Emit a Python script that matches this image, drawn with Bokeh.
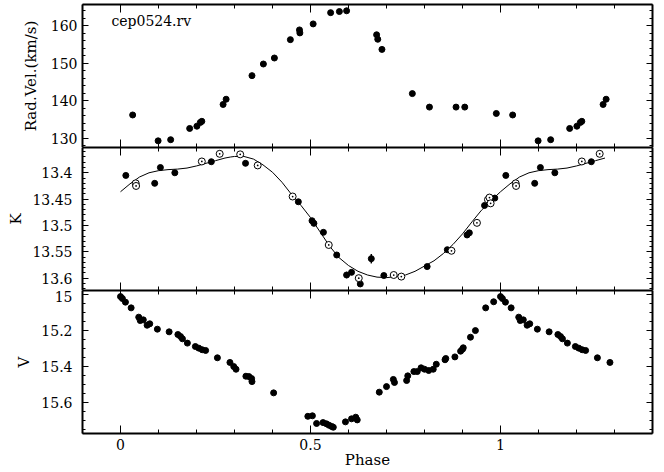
import numpy as np
from bokeh.plotting import figure
from bokeh.layouts import column
from bokeh.models import Range1d, LinearAxis, SingleIntervalTicker, CustomJSTickFormatter, Label
from bokeh.embed import file_html
from bokeh.resources import INLINE

FONT = "DejaVu Serif"

# ---------------- data (phase 0..1) ----------------
rv_phase = [0.032, 0.099, 0.132, 0.182, 0.201, 0.210, 0.214, 0.270, 0.278, 0.346,
            0.376, 0.405, 0.447, 0.471, 0.472, 0.507, 0.553, 0.576, 0.595, 0.674,
            0.677, 0.688, 0.768, 0.813, 0.883, 0.906, 0.989]
rv_vel = [136.2, 129.3, 129.6, 132.6, 133.2, 134.2, 134.5, 139.0, 140.4, 146.7,
          149.8, 151.4, 156.3, 158.9, 158.1, 160.5, 163.5, 163.8, 164.0, 157.6,
          156.4, 153.7, 141.9, 138.3, 138.3, 138.3, 136.6]

k_fill_phase = [0.014, 0.090, 0.105, 0.143, 0.239, 0.329, 0.468, 0.504, 0.509, 0.534,
                0.569, 0.595, 0.608, 0.631, 0.660, 0.693, 0.807, 0.860, 0.912, 0.918,
                0.958, 0.985]
k_fill_mag = [13.405, 13.420, 13.390, 13.400, 13.379, 13.382, 13.455, 13.491, 13.496, 13.513,
              13.556, 13.594, 13.589, 13.611, 13.563, 13.595, 13.578, 13.546, 13.518, 13.514,
              13.462, 13.448]
k_fill_err = [0.0, 0.0, 0.0, 0.0, 0.0, 0.0, 0.0, 0.0, 0.0, 0.0,
              0.0, 0.006, 0.0, 0.0, 0.009, 0.0, 0.0, 0.0, 0.0, 0.0,
              0.0, 0.0]

k_open_phase = [0.040, 0.041, 0.214, 0.261, 0.315, 0.361, 0.453, 0.548, 0.627, 0.719,
                0.739, 0.871, 0.938, 0.967, 0.971, 0.974]
k_open_mag = [13.420, 13.425, 13.3785, 13.364, 13.365, 13.386, 13.445, 13.537, 13.600, 13.594,
              13.597, 13.548, 13.495, 13.451, 13.447, 13.458]

k_curve_phase = [0.000, 0.025, 0.050, 0.075, 0.100, 0.125, 0.150, 0.175, 0.200, 0.225,
                 0.250, 0.275, 0.290, 0.300, 0.325, 0.350, 0.375, 0.400, 0.425, 0.450,
                 0.475, 0.500, 0.525, 0.550, 0.575, 0.600, 0.625, 0.650, 0.675, 0.700,
                 0.725, 0.750, 0.775, 0.800, 0.825, 0.850, 0.875, 0.900, 0.925, 0.950,
                 0.975]
k_curve_mag = [13.436, 13.421, 13.408, 13.400, 13.396, 13.394, 13.393, 13.391, 13.387, 13.382,
               13.377, 13.372, 13.370, 13.369, 13.369, 13.374, 13.385, 13.399, 13.418, 13.441,
               13.462, 13.485, 13.512, 13.539, 13.561, 13.576, 13.587, 13.594, 13.598, 13.599,
               13.597, 13.594, 13.587, 13.577, 13.567, 13.553, 13.536, 13.516, 13.493, 13.471,
               13.453]

v_phase = [0.000, 0.005, 0.013, 0.028, 0.048, 0.052, 0.060, 0.070, 0.077, 0.097,
           0.128, 0.151, 0.158, 0.163, 0.176, 0.197, 0.206, 0.215, 0.224, 0.255,
           0.288, 0.298, 0.304, 0.330, 0.338, 0.345, 0.346, 0.403, 0.493, 0.505,
           0.516, 0.533, 0.542, 0.549, 0.556, 0.560, 0.592, 0.608, 0.619, 0.623,
           0.681, 0.700, 0.718, 0.721, 0.753, 0.756, 0.772, 0.781, 0.791, 0.800,
           0.811, 0.823, 0.831, 0.854, 0.856, 0.880, 0.895, 0.900, 0.902, 0.921,
           0.934, 0.961, 0.982]
v_mag = [15.010, 15.021, 15.041, 15.073, 15.125, 15.144, 15.140, 15.170, 15.162, 15.192,
         15.207, 15.222, 15.233, 15.246, 15.270, 15.289, 15.298, 15.307, 15.311, 15.352,
         15.378, 15.401, 15.416, 15.455, 15.457, 15.468, 15.485, 15.548, 15.679, 15.676,
         15.719, 15.714, 15.721, 15.729, 15.736, 15.740, 15.710, 15.693, 15.684, 15.699,
         15.544, 15.513, 15.473, 15.490, 15.479, 15.453, 15.429, 15.429, 15.408, 15.416,
         15.423, 15.416, 15.388, 15.363, 15.356, 15.347, 15.315, 15.304, 15.296, 15.237,
         15.200, 15.073, 15.039]

star_name = "cep0524.rv"
REPEAT_CUT = 0.29


def wrap(ph, *vals):
    ph = np.asarray(ph, dtype=float)
    m = ph < REPEAT_CUT
    out = [np.concatenate([ph, ph[m] + 1.0])]
    for v in vals:
        v = np.asarray(v, dtype=float)
        out.append(np.concatenate([v, v[m]]))
    return out


xr = Range1d(-0.1, 1.4)
fmt = CustomJSTickFormatter(code="return String(Number(tick.toFixed(4)));")
xt = SingleIntervalTicker(interval=0.5, num_minor_ticks=5)


def make_fig(yr, fh, mt, mb, yint, ynm, ylabel, lstand, astand, show_x):
    p = figure(x_range=xr, y_range=yr, frame_width=570, frame_height=fh,
               min_border_left=82, min_border_right=12, min_border_top=mt,
               min_border_bottom=mb, output_backend="svg", toolbar_location=None)
    p.xgrid.visible = False
    p.ygrid.visible = False
    p.outline_line_color = None
    p.background_fill_color = "white"
    p.border_fill_color = "white"
    yt = SingleIntervalTicker(interval=yint, num_minor_ticks=ynm)

    def common(ax, is_x):
        ax.axis_line_width = 2
        ax.axis_line_color = "black"
        ax.major_tick_line_color = "black"
        ax.minor_tick_line_color = "black"
        ax.major_tick_out = 0
        ax.minor_tick_out = 0
        ax.major_tick_in = 8 if is_x else 6
        ax.minor_tick_in = 4 if is_x else 3

    def hide(ax):
        ax.major_label_text_font_size = "0px"
        ax.major_label_text_color = None
        ax.major_label_standoff = 0

    ya = p.yaxis[0]
    ya.ticker = yt
    ya.formatter = fmt
    common(ya, False)
    ya.major_label_text_font = FONT
    ya.major_label_text_font_size = "14px"
    ya.major_label_text_color = "black"
    ya.major_label_standoff = lstand
    ya.axis_label = ylabel
    ya.axis_label_text_font = FONT
    ya.axis_label_text_font_size = "15px"
    ya.axis_label_text_font_style = "normal"
    ya.axis_label_text_color = "black"
    ya.axis_label_standoff = astand

    xa = p.xaxis[0]
    xa.ticker = xt
    xa.formatter = fmt
    common(xa, True)
    if show_x:
        xa.major_label_text_font = FONT
        xa.major_label_text_font_size = "14px"
        xa.major_label_text_color = "black"
        xa.major_label_standoff = 5
        xa.axis_label = "Phase"
        xa.axis_label_text_font = FONT
        xa.axis_label_text_font_size = "15px"
        xa.axis_label_text_font_style = "normal"
        xa.axis_label_text_color = "black"
        xa.axis_label_standoff = -2
    else:
        hide(xa)

    ra = LinearAxis(ticker=yt, formatter=fmt)
    common(ra, False)
    hide(ra)
    p.add_layout(ra, "right")
    ta = LinearAxis(ticker=xt, formatter=fmt)
    common(ta, True)
    hide(ta)
    p.add_layout(ta, "above")
    return p


# ---------------- top: radial velocity ----------------
p1 = make_fig(Range1d(127.52, 165.68), 143, 4, 0, 10, 5, "Rad.Vel.(km/s)", 5, 8, False)
x, y = wrap(rv_phase, rv_vel)
p1.scatter(x, y, marker="circle", size=6, fill_color="black", line_color="black")
p1.add_layout(Label(x=-0.024, y=161.4, text=star_name, text_font=FONT,
                    text_font_size="14px", text_color="black",
                    text_baseline="alphabetic", text_align="left"))

# ---------------- middle: K ----------------
p2 = make_fig(Range1d(13.6234, 13.352), 143, 0, 0, 0.05, 5, "K", 10, 4, False)
cx, cy = wrap(k_curve_phase, k_curve_mag)
p2.line(cx, cy, line_color="black", line_width=1)
fx, fy, fe = wrap(k_fill_phase, k_fill_mag, k_fill_err)
p2.segment(fx, fy - fe, fx, fy + fe, line_color="black", line_width=1.5)
p2.scatter(fx, fy, marker="circle", size=6, fill_color="black", line_color="black")
ox, oy = wrap(k_open_phase, k_open_mag)
p2.scatter(ox, oy, marker="circle_dot", size=7, fill_color="white",
           line_color="black", line_width=1)

# ---------------- bottom: V ----------------
p3 = make_fig(Range1d(15.775, 14.976), 143, 0, 39, 0.2, 4, "V", 10, 5, True)
vx, vy = wrap(v_phase, v_mag)
p3.scatter(vx, vy, marker="circle", size=6, fill_color="black", line_color="black")

layout = column(p1, p2, p3, spacing=0)
open("out.html", "w").write(file_html(layout, INLINE))
